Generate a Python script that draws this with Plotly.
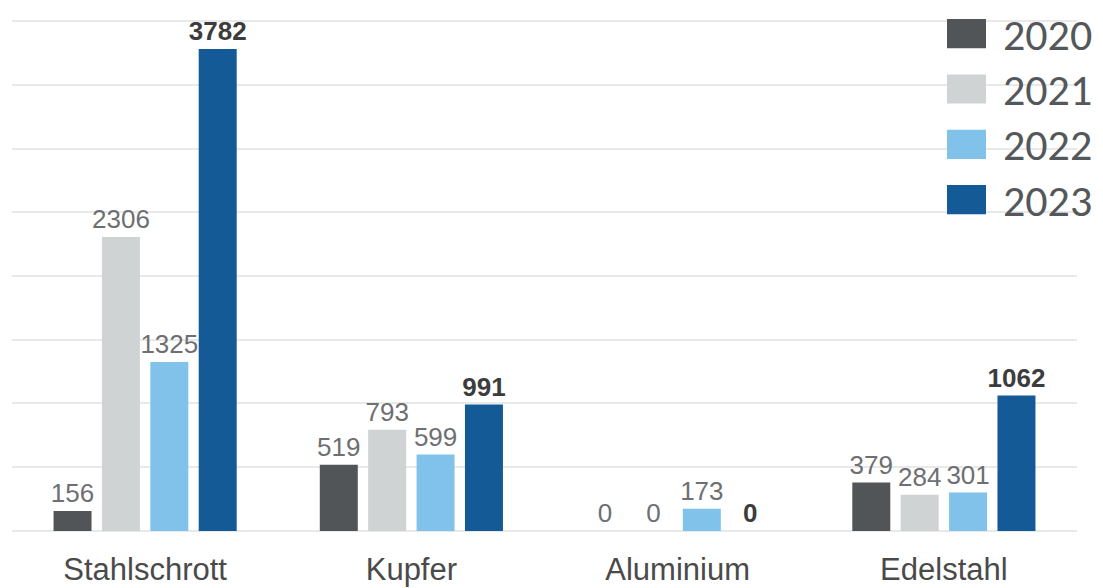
import plotly.graph_objects as go

categories = ["Stahlschrott", "Kupfer", "Aluminium", "Edelstahl"]
years = ["2020", "2021", "2022", "2023"]
values_2020 = [156, 519, 0, 379]
values_2021 = [2306, 793, 0, 284]
values_2022 = [1325, 599, 173, 301]
values_2023 = [3782, 991, 0, 1062]
y_ticks = [0, 500, 1000, 1500, 2000, 2500, 3000, 3500, 4000]

series = [values_2020, values_2021, values_2022, values_2023]
colors = ["#525558", "#cfd3d4", "#80c2ea", "#135a97"]
label_colors = ["#6d6f72", "#6d6f72", "#6d6f72", "#3c3c3c"]
bold = [False, False, False, True]

W, H = 1103, 588
ml, mr, mt, mb = 12, 26, 11, 52
pw, ph = W - ml - mr, H - mt - mb

fig = go.Figure()
for yr, vals, col, lcol, b in zip(years, series, colors, label_colors, bold):
    fig.add_trace(go.Bar(
        x=categories, y=vals, name=yr,
        marker=dict(color=col, line=dict(width=0)),
        text=[str(v) for v in vals],
        texttemplate="<b>%{text}</b>" if b else "%{text}",
        textposition="outside",
        constraintext="none",
        cliponaxis=False,
        textfont=dict(family="Liberation Sans, Arial, sans-serif", size=26, color=lcol),
        showlegend=False,
    ))

# manual legend (large swatches like the reference)
def px_x(p):
    return (p - ml) / pw

def px_y(p):
    return (H - mb - p) / ph

row_centers = [33.7, 89.0, 144.3, 199.6]
for yr, col, c in zip(years, colors, row_centers):
    fig.add_shape(type="rect", xref="paper", yref="paper",
                  x0=px_x(947), x1=px_x(986), y0=px_y(c + 14.6), y1=px_y(c - 14.6),
                  fillcolor=col, line=dict(width=0), layer="above")
    fig.add_annotation(xref="paper", yref="paper", x=px_x(1001), y=px_y(c + 1),
                       xanchor="left", yanchor="middle", text=yr, showarrow=False,
                       font=dict(family="Carlito, Lato, sans-serif", size=44, color="#54585b"))

fig.update_layout(
    width=W, height=H,
    margin=dict(l=ml, r=mr, t=mt, b=mb, autoexpand=False),
    paper_bgcolor="white", plot_bgcolor="white",
    barmode="group", bargap=0.273, bargroupgap=0.215,
    showlegend=False,
    font=dict(family="Liberation Sans, Arial, sans-serif"),
)
fig.update_xaxes(
    showgrid=False, showline=False, ticks="", automargin=False,
    tickfont=dict(family="Liberation Sans, Arial, sans-serif", size=31, color="#4a4a4a"),
    ticklabelstandoff=12,
)
fig.update_yaxes(
    range=[-40, 4080], tickvals=y_ticks, showticklabels=False,
    showgrid=True, gridcolor="#e9e9e9", gridwidth=2,
    zeroline=False, showline=False, automargin=False,
)

fig.write_html("out.html")
